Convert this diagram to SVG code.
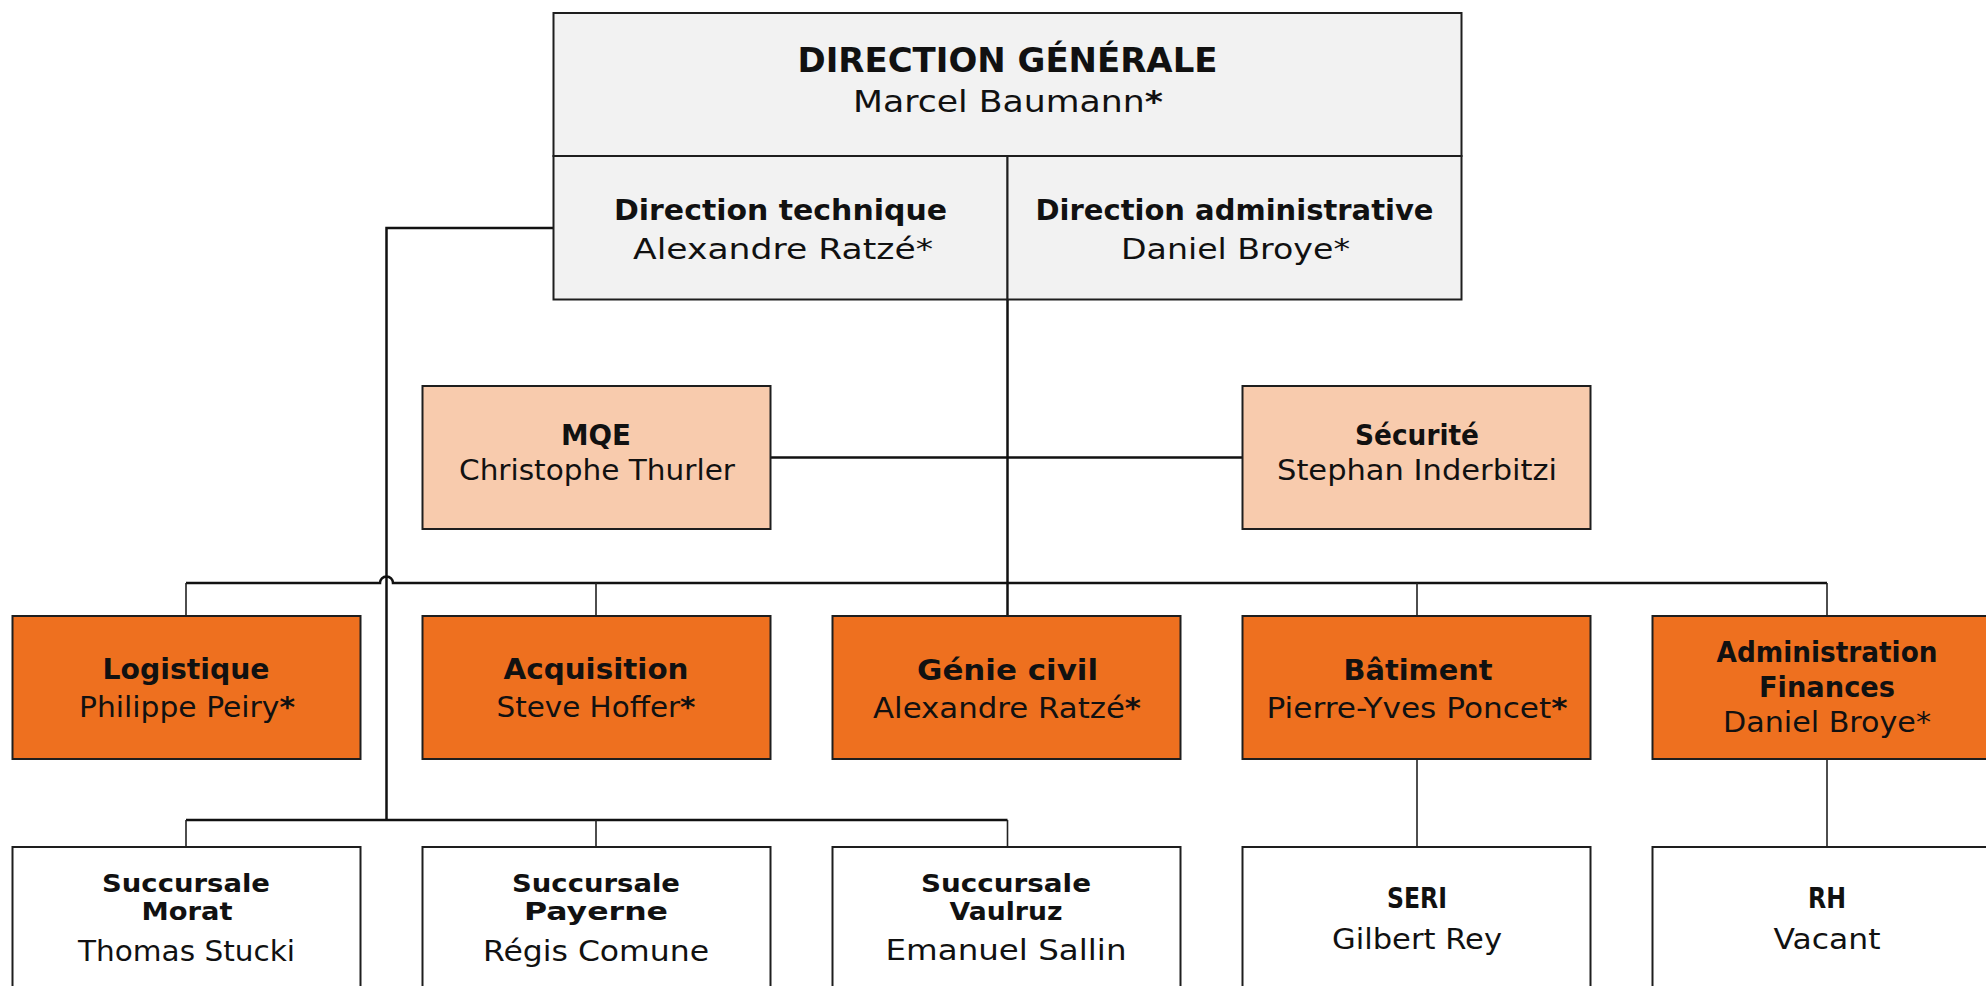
<svg xmlns="http://www.w3.org/2000/svg" width="1986" height="986" viewBox="0 0 1986 986">
<style>
.box{stroke:#1e1e1e;stroke-width:2}
.grey{fill:#F2F2F2}
.peach{fill:#F8CBAD}
.orange{fill:#EE701F}
.white{fill:#FFFFFF}
text{font-family:"DejaVu Sans","Liberation Sans",sans-serif;fill:#111;text-anchor:middle}
.t{font-weight:bold;font-size:29px}
.n{font-size:28px}
.s{font-weight:bold;font-size:25px}
.b{font-weight:bold}
.main{fill:none;stroke:#111;stroke-width:2.5}
.drop{fill:none;stroke:#222;stroke-width:1.6}
</style>
<rect width="1986" height="986" fill="#fff"/>
<g id="connectors">
<path class="main" d="M553.5,228 H386.5 V820"/>
<path class="main" d="M1007.5,299 V616"/>
<path class="main" d="M770.5,457.5 H1242.5"/>
<path class="main" d="M186,583 H380 A6.5,6.5 0 0 1 393,583 H1827"/>
<path class="drop" d="M186,583 V616 M596,583 V616 M1417,583 V616 M1827,583 V616"/>
<path class="main" d="M186,820 H1007.5"/>
<path class="drop" d="M186,820 V847 M596,820 V847 M1007.5,820 V847"/>
<path class="drop" d="M1417,759 V847 M1827,759 V847"/>
</g>
<g id="direction-generale">
<rect class="box grey" x="553.5" y="13" width="908" height="143"/>
<text x="1007.5" y="72" font-size="34" class="b" textLength="420" lengthAdjust="spacingAndGlyphs">DIRECTION GÉNÉRALE</text>
<text x="1008" y="112" font-size="30" textLength="310" lengthAdjust="spacingAndGlyphs">Marcel Baumann<tspan class="b">*</tspan></text>
</g>
<g id="direction-technique">
<rect class="box grey" x="553.5" y="156" width="454" height="143.5"/>
<text class="t" x="780.5" y="220" font-size="28" textLength="333" lengthAdjust="spacingAndGlyphs">Direction technique</text>
<text class="n" x="783" y="259" textLength="300" lengthAdjust="spacingAndGlyphs">Alexandre Ratzé*</text>
</g>
<g id="direction-administrative">
<rect class="box grey" x="1007.5" y="156" width="454" height="143.5"/>
<text class="t" x="1234.5" y="220" font-size="28" textLength="398" lengthAdjust="spacingAndGlyphs">Direction administrative</text>
<text class="n" x="1235.5" y="259" textLength="229" lengthAdjust="spacingAndGlyphs">Daniel Broye*</text>
</g>
<g id="mqe">
<rect class="box peach" x="422.5" y="386" width="348" height="143"/>
<text class="t" x="596" y="445" font-size="27" textLength="70" lengthAdjust="spacingAndGlyphs">MQE</text>
<text class="n" x="597" y="480" textLength="276" lengthAdjust="spacingAndGlyphs">Christophe Thurler</text>
</g>
<g id="securite">
<rect class="box peach" x="1242.5" y="386" width="348" height="143"/>
<text class="t" x="1417" y="445" font-size="27" textLength="124" lengthAdjust="spacingAndGlyphs">Sécurité</text>
<text class="n" x="1417" y="480" textLength="280" lengthAdjust="spacingAndGlyphs">Stephan Inderbitzi</text>
</g>
<g id="logistique">
<rect class="box orange" x="12.5" y="616" width="348" height="143"/>
<text class="t" x="186" y="679" textLength="167" lengthAdjust="spacingAndGlyphs">Logistique</text>
<text class="n" x="187" y="717" textLength="216" lengthAdjust="spacingAndGlyphs">Philippe Peiry<tspan class="b">*</tspan></text>
</g>
<g id="acquisition">
<rect class="box orange" x="422.5" y="616" width="348" height="143"/>
<text class="t" x="596" y="679" textLength="185" lengthAdjust="spacingAndGlyphs">Acquisition</text>
<text class="n" x="596" y="717" textLength="199" lengthAdjust="spacingAndGlyphs">Steve Hoffer<tspan class="b">*</tspan></text>
</g>
<g id="genie-civil">
<rect class="box orange" x="832.5" y="616" width="348" height="143"/>
<text class="t" x="1007.5" y="680" textLength="181" lengthAdjust="spacingAndGlyphs">Génie civil</text>
<text class="n" x="1007" y="718" textLength="268" lengthAdjust="spacingAndGlyphs">Alexandre Ratzé<tspan class="b">*</tspan></text>
</g>
<g id="batiment">
<rect class="box orange" x="1242.5" y="616" width="348" height="143"/>
<text class="t" x="1418" y="680" textLength="149" lengthAdjust="spacingAndGlyphs">Bâtiment</text>
<text class="n" x="1417" y="718" textLength="301" lengthAdjust="spacingAndGlyphs">Pierre-Yves Poncet<tspan class="b">*</tspan></text>
</g>
<g id="administration-finances">
<rect class="box orange" x="1652.5" y="616" width="348" height="143"/>
<text class="t" x="1827" y="662" textLength="221" lengthAdjust="spacingAndGlyphs">Administration</text>
<text class="t" x="1827" y="697" textLength="136" lengthAdjust="spacingAndGlyphs">Finances</text>
<text class="n" x="1827" y="732" textLength="208" lengthAdjust="spacingAndGlyphs">Daniel Broye*</text>
</g>
<g id="succursale-morat">
<rect class="box white" x="12.5" y="847" width="348" height="200"/>
<text class="s" x="186" y="892" textLength="168" lengthAdjust="spacingAndGlyphs">Succursale</text>
<text class="s" x="187" y="920" textLength="91" lengthAdjust="spacingAndGlyphs">Morat</text>
<text class="n" x="186.5" y="961" textLength="217" lengthAdjust="spacingAndGlyphs">Thomas Stucki</text>
</g>
<g id="succursale-payerne">
<rect class="box white" x="422.5" y="847" width="348" height="200"/>
<text class="s" x="596" y="892" textLength="168" lengthAdjust="spacingAndGlyphs">Succursale</text>
<text class="s" x="596" y="920" textLength="144" lengthAdjust="spacingAndGlyphs">Payerne</text>
<text class="n" x="596" y="961" textLength="226" lengthAdjust="spacingAndGlyphs">Régis Comune</text>
</g>
<g id="succursale-vaulruz">
<rect class="box white" x="832.5" y="847" width="348" height="200"/>
<text class="s" x="1006" y="892" textLength="170" lengthAdjust="spacingAndGlyphs">Succursale</text>
<text class="s" x="1006" y="920" textLength="113" lengthAdjust="spacingAndGlyphs">Vaulruz</text>
<text class="n" x="1006" y="960" textLength="241" lengthAdjust="spacingAndGlyphs">Emanuel Sallin</text>
</g>
<g id="seri">
<rect class="box white" x="1242.5" y="847" width="348" height="200"/>
<text class="t" x="1417" y="908" font-size="27" textLength="60" lengthAdjust="spacingAndGlyphs">SERI</text>
<text class="n" x="1417" y="949" textLength="170" lengthAdjust="spacingAndGlyphs">Gilbert Rey</text>
</g>
<g id="rh">
<rect class="box white" x="1652.5" y="847" width="348" height="200"/>
<text class="t" x="1827" y="908" font-size="27" textLength="38" lengthAdjust="spacingAndGlyphs">RH</text>
<text class="n" x="1827" y="949" textLength="107" lengthAdjust="spacingAndGlyphs">Vacant</text>
</g>
</svg>
